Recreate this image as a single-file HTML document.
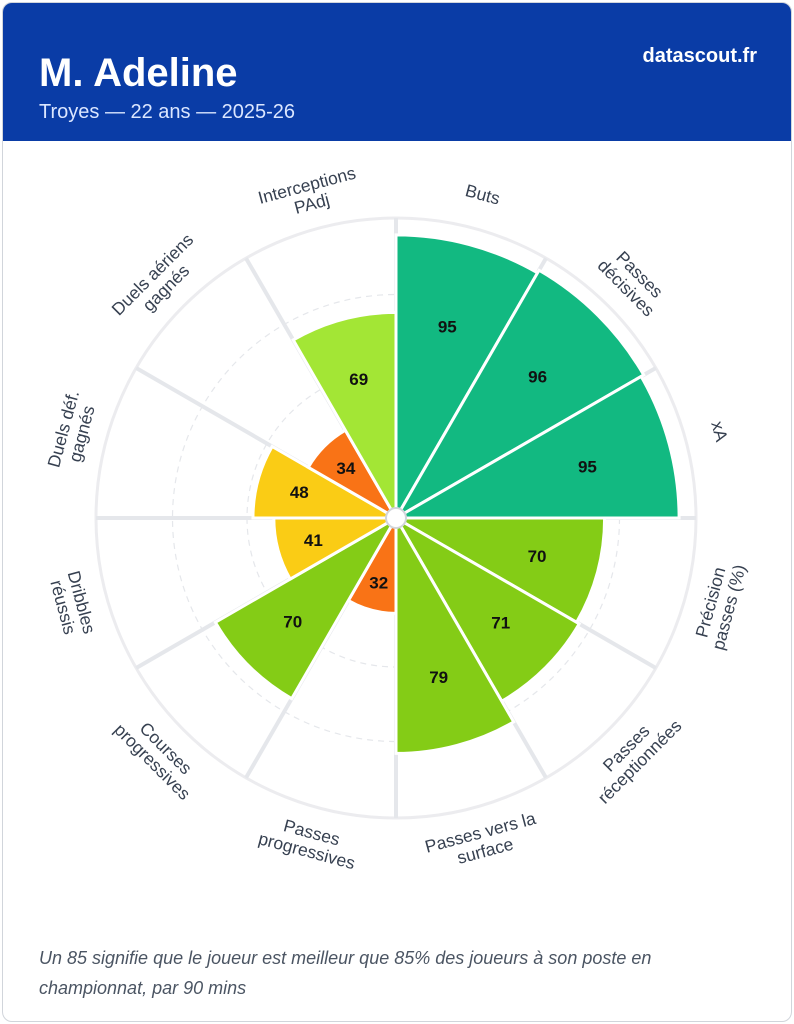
<!DOCTYPE html>
<html><head><meta charset="utf-8">
<style>
body{margin:0;background:#fff;font-family:"Liberation Sans",Arial,sans-serif;}
.card{position:absolute;left:2px;top:2px;width:788px;height:1018px;border:1px solid #d1d5db;border-radius:10px;overflow:hidden;background:#fff;}
.hdr{position:absolute;left:0;top:0;width:788px;height:138px;background:#0a3ca6;}
.t{position:absolute;left:36px;top:48px;color:#fff;font-weight:bold;font-size:40px;}
.s{position:absolute;left:36px;top:98px;color:#dbe6ff;font-size:20px;}
.b{position:absolute;right:34px;top:42px;color:#fff;font-weight:bold;font-size:20px;}
.f{position:absolute;left:36px;top:940px;width:720px;color:#4b5563;font-style:italic;font-size:18px;line-height:30px;}
svg{position:absolute;left:0;top:0;}
</style></head><body>
<div class="card">
<div class="hdr"><div class="t">M. Adeline</div><div class="s">Troyes — 22 ans — 2025-26</div><div class="b">datascout.fr</div></div>
<div class="f">Un 85 signifie que le joueur est meilleur que 85% des joueurs à son poste en championnat, par 90 mins</div>
</div>
<svg width="794" height="1024" id="s"></svg>
<script>
const cx=396,cy=518,ns="http://www.w3.org/2000/svg",s=document.getElementById('s');
function el(t,a,p){const e=document.createElementNS(ns,t);for(const k in a)e.setAttribute(k,a[k]);(p||s).appendChild(e);return e;}
const R=v=>v*2.98;
function pt(r,a){const t=a*Math.PI/180;return [cx+r*Math.sin(t),cy-r*Math.cos(t)];}
el('circle',{cx,cy,r:300,fill:'none',stroke:'#ececef','stroke-width':3});
[25,50,75].forEach(v=>el('circle',{cx,cy,r:R(v),fill:'none',stroke:'#e5e7eb','stroke-width':1.2,'stroke-dasharray':'6 5'}));
for(let i=0;i<12;i++){const p=pt(300,i*30);el('line',{x1:cx,y1:cy,x2:p[0],y2:p[1],stroke:'#e5e7eb','stroke-width':4});}
const d=[["Buts",95,"#12b981"],["Passes|décisives",96,"#12b981"],["xA",95,"#12b981"],["Précision|passes (%)",70,"#84cc16"],["Passes|réceptionnées",71,"#84cc16"],["Passes vers la|surface",79,"#84cc16"],["Passes|progressives",32,"#f97316"],["Courses|progressives",70,"#84cc16"],["Dribbles|réussis",41,"#facc15"],["Duels déf.|gagnés",48,"#facc15"],["Duels aériens|gagnés",34,"#f97316"],["Interceptions|PAdj",69,"#a3e635"]];
d.forEach((x,i)=>{const a0=i*30,a1=a0+30,r=R(x[1]);const p0=pt(r,a0),p1=pt(r,a1);
el('path',{d:`M${cx},${cy}L${p0[0]},${p0[1]}A${r},${r} 0 0 1 ${p1[0]},${p1[1]}Z`,fill:x[2],stroke:'#fff','stroke-width':3});});
d.forEach((x,i)=>{const am=i*30+15,r=R(x[1]);const lp=pt(Math.max(r*0.7,64),am);
const t=el('text',{x:lp[0],y:lp[1]+6,'text-anchor':'middle','font-size':17,'font-weight':'bold',fill:'#111'});t.textContent=x[1];
const q=pt(335,am);let rot=(am>90&&am<270)?am-180:am;
const g=el('g',{transform:`translate(${q[0]},${q[1]}) rotate(${rot})`});
const lines=x[0].split('|');lines.forEach((l,j)=>{const tt=el('text',{x:0,y:(j-(lines.length-1)/2)*19+6,'text-anchor':'middle','font-size':17.5,fill:'#374151'},g);tt.textContent=l;});});
el('circle',{cx,cy,r:10,fill:'#fff',stroke:'#d1d5db','stroke-width':2});
</script>
</body></html>
